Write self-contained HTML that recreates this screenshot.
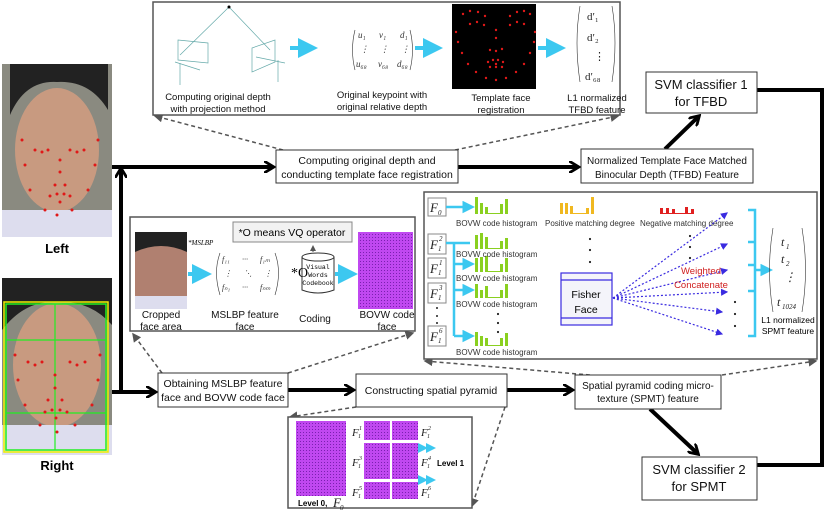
<!DOCTYPE html>
<html><head><meta charset="utf-8"><style>
html,body{margin:0;padding:0;background:#fff}
svg{display:block;font-family:"Liberation Sans",sans-serif}
</style></head><body>
<svg width="830" height="511" viewBox="0 0 830 511" xmlns="http://www.w3.org/2000/svg">
<defs>
<marker id="ah" viewBox="0 0 6 6" markerWidth="3" markerHeight="3" refX="4" refY="3" orient="auto" markerUnits="strokeWidth"><path d="M0,0 L5,3 L0,6" fill="none" stroke="#000" stroke-width="1.4"/></marker>
<marker id="dh" markerWidth="6" markerHeight="6" refX="5" refY="3" orient="auto"><path d="M0,0 L6,3 L0,6z" fill="#555"/></marker>
<marker id="bh" markerWidth="6" markerHeight="6" refX="5" refY="3" orient="auto"><path d="M0,0 L6,3 L0,6z" fill="#3a2be0"/></marker>
<marker id="ch" markerWidth="5" markerHeight="5" refX="3" refY="2.5" orient="auto"><path d="M0,0 L5,2.5 L0,5z" fill="#3cc8f0"/></marker>
<pattern id="pp" width="3" height="3" patternUnits="userSpaceOnUse"><rect width="3" height="3" fill="#c048f0"/><rect width="1" height="1" fill="#7a20b0"/></pattern>
</defs>

<!-- left faces -->
<g>
<rect x="2" y="64" width="110" height="173" fill="#8a8a80"/>
<ellipse cx="57" cy="150" rx="42" ry="62" fill="#c89a80"/>
<path d="M10,64 H108 V110 Q90,80 57,82 Q25,80 10,115z" fill="#222"/>
<rect x="2" y="210" width="110" height="27" fill="#dde"/>
<g fill="#e01818">
<circle cx="22" cy="140" r="1.5"/><circle cx="25" cy="165" r="1.5"/><circle cx="30" cy="190" r="1.5"/><circle cx="45" cy="210" r="1.5"/><circle cx="57" cy="215" r="1.5"/><circle cx="72" cy="210" r="1.5"/><circle cx="88" cy="190" r="1.5"/><circle cx="95" cy="165" r="1.5"/><circle cx="98" cy="140" r="1.5"/>
<circle cx="35" cy="150" r="1.5"/><circle cx="42" cy="152" r="1.5"/><circle cx="48" cy="150" r="1.5"/><circle cx="70" cy="150" r="1.5"/><circle cx="77" cy="152" r="1.5"/><circle cx="84" cy="150" r="1.5"/>
<circle cx="60" cy="160" r="1.5"/><circle cx="60" cy="172" r="1.5"/><circle cx="55" cy="185" r="1.5"/><circle cx="65" cy="185" r="1.5"/>
<circle cx="50" cy="196" r="1.5"/><circle cx="57" cy="194" r="1.5"/><circle cx="64" cy="194" r="1.5"/><circle cx="70" cy="196" r="1.5"/><circle cx="60" cy="202" r="1.5"/>
</g>
<text x="57" y="253" font-size="13" font-weight="bold" text-anchor="middle">Left</text>

<rect x="2" y="278" width="110" height="177" fill="#8a8a80"/>
<ellipse cx="57" cy="365" rx="44" ry="62" fill="#c89a80"/>
<path d="M2,278 H112 V325 Q90,300 57,302 Q25,300 2,330z" fill="#222"/>
<rect x="2" y="425" width="110" height="30" fill="#dde"/>
<rect x="4" y="302" width="104" height="150" fill="none" stroke="#ee0" stroke-width="1.5"/>
<rect x="6" y="304" width="100" height="146" fill="none" stroke="#2e2" stroke-width="1.5"/>
<path d="M55,304 V450 M6,340 H106 M6,413 H106" stroke="#2e2" stroke-width="1.2"/>
<g fill="#e01818">
<circle cx="15" cy="355" r="1.5"/><circle cx="18" cy="380" r="1.5"/><circle cx="25" cy="405" r="1.5"/><circle cx="40" cy="425" r="1.5"/><circle cx="57" cy="432" r="1.5"/><circle cx="75" cy="425" r="1.5"/><circle cx="92" cy="405" r="1.5"/><circle cx="98" cy="380" r="1.5"/><circle cx="100" cy="355" r="1.5"/>
<circle cx="28" cy="362" r="1.5"/><circle cx="35" cy="365" r="1.5"/><circle cx="42" cy="362" r="1.5"/><circle cx="70" cy="362" r="1.5"/><circle cx="77" cy="365" r="1.5"/><circle cx="85" cy="362" r="1.5"/>
<circle cx="55" cy="375" r="1.5"/><circle cx="55" cy="388" r="1.5"/><circle cx="48" cy="400" r="1.5"/><circle cx="62" cy="400" r="1.5"/>
<circle cx="45" cy="412" r="1.5"/><circle cx="52" cy="410" r="1.5"/><circle cx="60" cy="410" r="1.5"/><circle cx="67" cy="412" r="1.5"/><circle cx="56" cy="418" r="1.5"/>
</g>
<text x="57" y="470" font-size="13" font-weight="bold" text-anchor="middle">Right</text>
</g>

<!-- thick black connectors -->
<g stroke="#000" stroke-width="4" fill="none">
<path d="M112,167 H272" marker-end="url(#ah)"/>
<path d="M112,392 H154" marker-end="url(#ah)"/>
<path d="M121,392 V170" marker-end="url(#ah)"/>
<path d="M458,167 H577" marker-end="url(#ah)"/>
<path d="M288,390 H352" marker-end="url(#ah)"/>
<path d="M507,390 H571" marker-end="url(#ah)"/>
<path d="M665,149 L698,117" marker-end="url(#ah)"/>
<path d="M650,409 L697,453" marker-end="url(#ah)"/>
<path d="M757,90 H822 V465 H757"/>
</g>

<!-- dashed connectors -->
<g stroke="#555" stroke-width="1.5" stroke-dasharray="4,3" fill="none">
<path d="M283,150 L155,116" marker-end="url(#dh)"/>
<path d="M455,150 L618,116" marker-end="url(#dh)"/>
<path d="M162,373 L133,334" marker-end="url(#dh)"/>
<path d="M288,373 L413,333" marker-end="url(#dh)"/>
<path d="M590,375 L425,361" marker-end="url(#dh)"/>
<path d="M722,375 L816,361" marker-end="url(#dh)"/>
<path d="M356,407 L290,417" marker-end="url(#dh)"/>
<path d="M505,407 L472,506" marker-end="url(#dh)"/>
</g>

<!-- process boxes -->
<g fill="#fff" stroke="#333" stroke-width="1">
<rect x="276" y="150" width="182" height="33"/>
<rect x="581" y="149" width="172" height="34"/>
<rect x="646" y="72" width="111" height="41"/>
<rect x="158" y="373" width="130" height="34"/>
<rect x="356" y="374" width="151" height="33"/>
<rect x="575" y="375" width="146" height="34"/>
<rect x="642" y="457" width="115" height="43"/>
</g>
<g font-size="10.5" text-anchor="middle" fill="#111">
<text x="367" y="164">Computing original depth and</text>
<text x="367" y="178">conducting template face registration</text>
<text x="667" y="164" font-size="10">Normalized Template Face Matched</text>
<text x="667" y="178" font-size="10">Binocular Depth (TFBD) Feature</text>
<text x="223" y="387">Obtaining MSLBP feature</text>
<text x="223" y="401">face and BOVW code face</text>
<text x="431" y="394">Constructing spatial pyramid</text>
<text x="648" y="389" font-size="10">Spatial pyramid coding micro-</text>
<text x="648" y="402" font-size="10">texture (SPMT) feature</text>
<text x="701" y="89" font-size="13">SVM classifier 1</text>
<text x="701" y="106" font-size="13">for TFBD</text>
<text x="699" y="474" font-size="13">SVM classifier 2</text>
<text x="699" y="491" font-size="13">for SPMT</text>
</g>

<!-- top detail box -->
<rect x="153" y="2" width="467" height="113" fill="#fff" stroke="#555" stroke-width="1.5"/>
<g stroke="#6aa" stroke-width="0.7" fill="none">
<path d="M229,7 L180,55 M229,7 L270,50"/>
<path d="M178,40 L208,43 L208,63 L178,60z M252,48 L275,40 L275,62 L252,72z"/>
<path d="M175,62 L200,70 M256,57 L285,63 M180,63 L180,85 M278,60 L278,82"/>
</g>
<circle cx="229" cy="7" r="1.5"/>
<g font-size="9.5" text-anchor="middle" fill="#111">
<text x="218" y="100">Computing original depth</text>
<text x="218" y="112">with projection method</text>
<text x="382" y="98">Original keypoint with</text>
<text x="382" y="110">original relative depth</text>
<text x="501" y="101">Template face</text>
<text x="501" y="113">registration</text>
<text x="597" y="101">L1 normalized</text>
<text x="597" y="113">TFBD feature</text>
</g>
<g font-family="Liberation Serif,serif" font-style="italic" font-size="9" fill="#333">
<path d="M355,30 Q350,50 355,70 M410,30 Q415,50 410,70" stroke="#333" fill="none" stroke-width="0.6"/>
<text x="358" y="38">u₁</text><text x="379" y="38">v₁</text><text x="400" y="38">d₁</text>
<text x="360" y="52">⋮</text><text x="380" y="52">⋮</text><text x="401" y="52">⋮</text>
<text x="356" y="67">u₆₈</text><text x="378" y="67">v₆₈</text><text x="397" y="67">d₆₈</text>
</g>
<rect x="452" y="4" width="84" height="85" fill="#000"/>
<g fill="#e01818">
<circle cx="463" cy="14" r="1.2"/><circle cx="470" cy="11" r="1.2"/><circle cx="478" cy="12" r="1.2"/><circle cx="485" cy="16" r="1.2"/><circle cx="510" cy="16" r="1.2"/><circle cx="517" cy="12" r="1.2"/><circle cx="524" cy="11" r="1.2"/><circle cx="530" cy="14" r="1.2"/>
<circle cx="470" cy="24" r="1.2"/><circle cx="477" cy="22" r="1.2"/><circle cx="484" cy="25" r="1.2"/><circle cx="510" cy="25" r="1.2"/><circle cx="517" cy="22" r="1.2"/><circle cx="524" cy="24" r="1.2"/>
<circle cx="456" cy="32" r="1.2"/><circle cx="458" cy="42" r="1.2"/><circle cx="462" cy="53" r="1.2"/><circle cx="468" cy="64" r="1.2"/><circle cx="476" cy="72" r="1.2"/><circle cx="486" cy="78" r="1.2"/><circle cx="496" cy="80" r="1.2"/><circle cx="506" cy="78" r="1.2"/><circle cx="516" cy="72" r="1.2"/><circle cx="524" cy="64" r="1.2"/><circle cx="530" cy="53" r="1.2"/><circle cx="534" cy="42" r="1.2"/><circle cx="535" cy="32" r="1.2"/>
<circle cx="496" cy="30" r="1.2"/><circle cx="496" cy="38" r="1.2"/><circle cx="490" cy="50" r="1.2"/><circle cx="496" cy="51" r="1.2"/><circle cx="502" cy="49" r="1.2"/>
<circle cx="488" cy="62" r="1.2"/><circle cx="493" cy="60" r="1.2"/><circle cx="498" cy="60" r="1.2"/><circle cx="503" cy="62" r="1.2"/><circle cx="490" cy="67" r="1.2"/><circle cx="496" cy="67" r="1.2"/><circle cx="502" cy="67" r="1.2"/><circle cx="496" cy="64" r="1.2"/>
</g>
<g font-family="Liberation Serif,serif" font-size="11" fill="#222">
<path d="M580,6 Q574,42 580,82 M612,6 Q618,42 612,82" stroke="#333" fill="none" stroke-width="0.6"/>
<text x="587" y="20">d′₁</text><text x="587" y="41">d′₂</text><text x="594" y="60">⋮</text><text x="585" y="80">d′₆₈</text>
</g>
<g stroke="#3cc8f0" stroke-width="4" fill="none">
<path d="M290,48 H310" marker-end="url(#ch)"/>
<path d="M415,48 H435" marker-end="url(#ch)"/>
<path d="M538,48 H558" marker-end="url(#ch)"/>
</g>

<!-- MSLBP detail box -->
<rect x="130" y="217" width="285" height="114" fill="#fff" stroke="#555" stroke-width="1.5"/>
<rect x="135" y="232" width="52" height="77" fill="#b08070"/>
<path d="M135,232 H187 V252 Q161,240 135,252z" fill="#222"/>
<rect x="135" y="296" width="52" height="13" fill="#dde"/>
<rect x="358" y="232" width="55" height="77" fill="url(#pp)"/>
<rect x="233" y="222" width="119" height="20" fill="#f2f2f2" stroke="#888"/>
<text x="292" y="236" font-size="10.5" text-anchor="middle">*O means VQ operator</text>
<path d="M313,252 V246" stroke="#555" stroke-width="1" marker-end="url(#dh)"/>
<path d="M302,257 V290 Q318,296 334,290 V257" fill="#fff" stroke="#333"/>
<ellipse cx="318" cy="257" rx="16" ry="4" fill="#fff" stroke="#333"/>
<g font-family="Liberation Mono,monospace" font-size="6.5" text-anchor="middle"><text x="318" y="269">Visual</text><text x="318" y="277">Words</text><text x="318" y="285">Codebook</text></g>
<text x="291" y="277" font-family="Liberation Serif,serif" font-size="14">*O</text>
<text x="188" y="245" font-family="Liberation Serif,serif" font-style="italic" font-size="7">*MSLBP</text>
<g font-family="Liberation Serif,serif" font-style="italic" font-size="8" fill="#333">
<path d="M220,253 Q213,272 220,295 M275,253 Q282,272 275,295" stroke="#333" fill="none" stroke-width="0.6"/>
<text x="222" y="262">f₁₁</text><text x="242" y="262">···</text><text x="260" y="262">f₁ₘ</text>
<text x="224" y="276">⋮</text><text x="244" y="276">⋱</text><text x="264" y="276">⋮</text>
<text x="222" y="290">fₙ₁</text><text x="242" y="290">···</text><text x="260" y="290">fₙₘ</text>
</g>
<g stroke="#3cc8f0" stroke-width="4" fill="none">
<path d="M188,274 H204" marker-end="url(#ch)"/>
<path d="M335,274 H350" marker-end="url(#ch)"/>
</g>
<g font-size="10" text-anchor="middle" fill="#111">
<text x="161" y="318">Cropped</text><text x="161" y="330">face area</text>
<text x="245" y="318">MSLBP feature</text><text x="245" y="330">face</text>
<text x="315" y="322">Coding</text>
<text x="387" y="318">BOVW code</text><text x="387" y="330">face</text>
</g>

<!-- SPMT detail box -->
<rect x="424" y="192" width="393" height="167" fill="#fff" stroke="#555" stroke-width="1.5"/>
<g fill="#fff" stroke="#888">
<rect x="428" y="198" width="18" height="18"/>
<rect x="428" y="234" width="18" height="20"/>
<rect x="428" y="258" width="18" height="20"/>
<rect x="428" y="283" width="18" height="20"/>
<rect x="428" y="326" width="18" height="20"/>
</g>
<g font-family="Liberation Serif,serif" font-style="italic" font-size="13" fill="#222">
<text x="430" y="212">F</text><text x="438" y="215" font-size="7">0</text>
<text x="430" y="249">F</text><text x="438" y="251" font-size="7">1</text><text x="439" y="241" font-size="7">2</text>
<text x="430" y="273">F</text><text x="438" y="275" font-size="7">1</text><text x="439" y="265" font-size="7">1</text>
<text x="430" y="298">F</text><text x="438" y="300" font-size="7">1</text><text x="439" y="290" font-size="7">3</text>
<text x="430" y="341">F</text><text x="438" y="343" font-size="7">1</text><text x="439" y="333" font-size="7">6</text>
</g>
<g fill="#222"><circle cx="437" cy="308" r="1"/><circle cx="437" cy="316" r="1"/><circle cx="437" cy="323" r="1"/></g>
<g stroke="#3cc8f0" stroke-width="2.5" fill="none">
<path d="M446,207 H470" marker-end="url(#ch)"/>
<path d="M446,243 H470 M454,243 V336"/>
<path d="M454,264 H470" marker-end="url(#ch)"/>
<path d="M454,290 H470" marker-end="url(#ch)"/>
<path d="M454,336 H470" marker-end="url(#ch)"/>
<path d="M748,210 H755 V336 H748 M748,242 H755 M748,265 H755 M748,291 H755"/>
<path d="M755,270 H768" marker-end="url(#ch)"/>
</g>
<g fill="#8ad020">
<rect x="475" y="197" width="3" height="17"/><rect x="480" y="203" width="3" height="11"/><rect x="485" y="207" width="3" height="7"/><rect x="500" y="204" width="3" height="10"/><rect x="505" y="199" width="3" height="15"/><rect x="488" y="213" width="12" height="1"/>
<rect x="475" y="235" width="3" height="14"/><rect x="480" y="233" width="3" height="16"/><rect x="485" y="237" width="3" height="12"/><rect x="500" y="241" width="3" height="8"/><rect x="505" y="238" width="3" height="11"/><rect x="488" y="248" width="12" height="1"/>
<rect x="475" y="258" width="3" height="14"/><rect x="480" y="257" width="3" height="15"/><rect x="485" y="256" width="3" height="16"/><rect x="500" y="264" width="3" height="8"/><rect x="505" y="258" width="3" height="14"/><rect x="488" y="271" width="12" height="1"/>
<rect x="475" y="284" width="3" height="14"/><rect x="480" y="290" width="3" height="8"/><rect x="485" y="286" width="3" height="12"/><rect x="500" y="290" width="3" height="8"/><rect x="505" y="284" width="3" height="14"/><rect x="488" y="297" width="12" height="1"/>
<rect x="475" y="332" width="3" height="14"/><rect x="480" y="336" width="3" height="10"/><rect x="485" y="338" width="3" height="8"/><rect x="500" y="338" width="3" height="8"/><rect x="505" y="333" width="3" height="13"/><rect x="488" y="345" width="12" height="1"/>
</g>
<g fill="#f0b820">
<rect x="560" y="203" width="3" height="11"/><rect x="565" y="203" width="3" height="11"/><rect x="570" y="206" width="3" height="8"/><rect x="586" y="208" width="3" height="6"/><rect x="591" y="197" width="3" height="17"/><rect x="573" y="213" width="13" height="1"/>
</g>
<g fill="#e02020">
<rect x="660" y="208" width="3" height="6"/><rect x="666" y="208" width="3" height="6"/><rect x="672" y="209" width="3" height="5"/><rect x="685" y="207" width="3" height="7"/><rect x="691" y="209" width="3" height="5"/><rect x="662" y="213" width="32" height="1"/>
</g>
<g font-size="8" fill="#333">
<text x="456" y="226">BOVW code histogram</text>
<text x="545" y="226">Positive matching degree</text>
<text x="640" y="226">Negative matching degree</text>
<text x="456" y="257">BOVW code histogram</text>
<text x="456" y="281">BOVW code histogram</text>
<text x="456" y="307">BOVW code histogram</text>
<text x="456" y="355">BOVW code histogram</text>
</g>
<g fill="#222">
<circle cx="590" cy="239" r="1.1"/><circle cx="590" cy="250" r="1.1"/><circle cx="590" cy="262" r="1.1"/>
<circle cx="690" cy="236" r="1.1"/><circle cx="690" cy="247" r="1.1"/><circle cx="690" cy="258" r="1.1"/>
<circle cx="498" cy="314" r="1.1"/><circle cx="498" cy="323" r="1.1"/><circle cx="498" cy="332" r="1.1"/>
<circle cx="735" cy="302" r="1.1"/><circle cx="735" cy="314" r="1.1"/><circle cx="735" cy="326" r="1.1"/>
</g>
<rect x="561" y="273" width="51" height="52" fill="#f4f4fa" stroke="#3a2be0" stroke-width="1.2"/>
<path d="M561,280 H612 M561,318 H612" stroke="#3a2be0" stroke-width="1.2"/>
<text x="586" y="298" font-size="10.5" text-anchor="middle">Fisher</text>
<text x="586" y="313" font-size="10.5" text-anchor="middle">Face</text>
<g stroke="#3a2be0" stroke-width="1.2" stroke-dasharray="2,2" fill="none">
<path d="M613,298 L727,213" marker-end="url(#bh)"/>
<path d="M613,298 L727,244" marker-end="url(#bh)"/>
<path d="M613,298 L727,270" marker-end="url(#bh)"/>
<path d="M613,298 L727,292" marker-end="url(#bh)"/>
<path d="M613,298 L722,312" marker-end="url(#bh)"/>
<path d="M613,298 L722,334" marker-end="url(#bh)"/>
</g>
<text x="701" y="274" font-size="9.5" fill="#d02020" text-anchor="middle">Weighted</text>
<text x="701" y="288" font-size="9.5" fill="#d02020" text-anchor="middle">Concatenate</text>
<g font-family="Liberation Serif,serif" font-style="italic" font-size="12" fill="#222">
<path d="M773,228 Q766,270 773,312 M802,228 Q809,270 802,312" stroke="#333" fill="none" stroke-width="0.6"/>
<text x="781" y="246">t</text><text x="786" y="249" font-size="7">1</text>
<text x="781" y="263">t</text><text x="786" y="266" font-size="7">2</text>
<text x="784" y="281">⋮</text>
<text x="777" y="306">t</text><text x="782" y="309" font-size="7">1024</text>
</g>
<text x="788" y="323" font-size="8.5" text-anchor="middle">L1 normalized</text>
<text x="788" y="334" font-size="8.5" text-anchor="middle">SPMT feature</text>

<!-- pyramid detail box -->
<rect x="288" y="417" width="184" height="91" fill="#fff" stroke="#555" stroke-width="1.5"/>
<rect x="296" y="421" width="50" height="75" fill="url(#pp)"/>
<g fill="url(#pp)">
<rect x="364" y="421" width="26" height="19"/><rect x="392" y="421" width="26" height="19"/>
<rect x="364" y="443" width="26" height="36"/><rect x="392" y="443" width="26" height="36"/>
<rect x="364" y="482" width="26" height="17"/><rect x="392" y="482" width="26" height="17"/>
</g>
<g font-family="Liberation Serif,serif" font-style="italic" font-size="11" fill="#222">
<text x="352" y="436">F</text><text x="358" y="438" font-size="6">1</text><text x="359" y="430" font-size="6">1</text>
<text x="352" y="466">F</text><text x="358" y="468" font-size="6">1</text><text x="359" y="460" font-size="6">3</text>
<text x="352" y="496">F</text><text x="358" y="498" font-size="6">1</text><text x="359" y="490" font-size="6">5</text>
<text x="421" y="436">F</text><text x="427" y="438" font-size="6">1</text><text x="428" y="430" font-size="6">2</text>
<text x="421" y="466">F</text><text x="427" y="468" font-size="6">1</text><text x="428" y="460" font-size="6">4</text>
<text x="421" y="496">F</text><text x="427" y="498" font-size="6">1</text><text x="428" y="490" font-size="6">6</text>
<text x="333" y="507" font-size="13">F</text><text x="340" y="510" font-size="7">0</text>
</g>
<text x="298" y="506" font-size="8" font-weight="bold">Level 0,</text>
<text x="437" y="466" font-size="8" font-weight="bold">Level 1</text>
<g stroke="#3cc8f0" stroke-width="2" fill="none">
<path d="M424,448 H432" marker-end="url(#ch)" marker-start="url(#ch)"/>
<path d="M424,480 H432" marker-end="url(#ch)" marker-start="url(#ch)"/>
</g>
</svg>
</body></html>
